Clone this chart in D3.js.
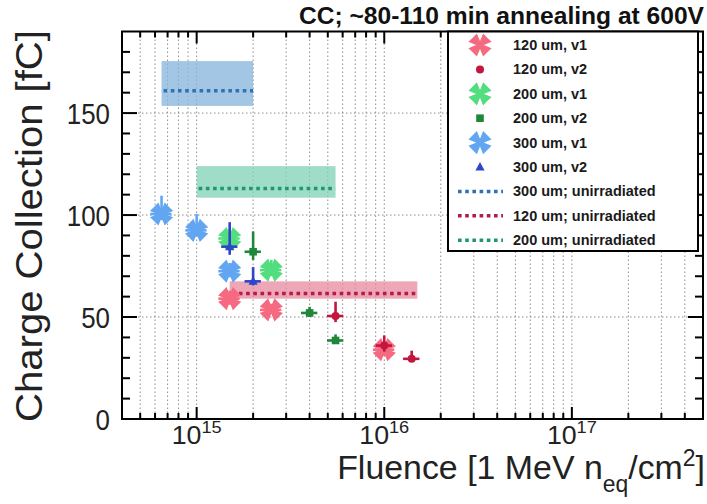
<!DOCTYPE html>
<html><head><meta charset="utf-8">
<script src="https://cdn.jsdelivr.net/npm/d3@7/dist/d3.min.js"></script>
<style>
body{margin:0;background:#fff;}
svg{display:block;font-family:"Liberation Sans",Arial,Helvetica,sans-serif;}
</style>
</head><body>
<svg id="c" width="707" height="504"></svg>
<script>
// ---------------- data ----------------
const chartTitle = "CC; ~80-110 min annealing at 600V";
const yTickValues = [0, 50, 100, 150];
const yMinorStep = 10;
const xDecades = [1e15, 1e16, 1e17];
const xDecadeExp = ["15", "16", "17"];
const xLabelMain = "Fluence [1 MeV n";
const yLabel = "Charge Collection [fC]";

// irradiated samples: fluence, charge, error up, error down
const s120v1_x = [1.5e15, 2.5e15, 1e16];
const s120v1_y = [59, 53.5, 34];
const s120v1_up = [4, 3, 4];
const s120v1_dn = [3, 2, 3];

const s120v2_x = [5.5e15, 1e16, 1.4e16];
const s120v2_y = [50.5, 36, 29.5];
const s120v2_up = [7, 5, 4];
const s120v2_dn = [3, 3, 1];

const s200v1_x = [1.5e15, 2.5e15];
const s200v1_y = [88.5, 73];
const s200v1_up = [5, 5];
const s200v1_dn = [3, 3];

const s200v2_x = [2e15, 4e15, 5.5e15];
const s200v2_y = [82, 52, 38.5];
const s200v2_up = [10, 3, 3];
const s200v2_dn = [4, 2, 1];

const s300v1_x = [6.5e14, 1e15, 1.5e15];
const s300v1_y = [100.5, 92.5, 72.5];
const s300v1_up = [9, 8, 4];
const s300v1_dn = [3, 3, 3];

const s300v2_x = [1.5e15, 2e15];
const s300v2_y = [84.5, 67.5];
const s300v2_up = [12, 7];
const s300v2_dn = [4, 2];

// unirradiated references: fluence range (for display), mean, band low/high
const bandNames = ["300 um; unirradiated", "120 um; unirradiated", "200 um; unirradiated"];
const bandX0 = [6.5e14, 1.5e15, 1e15];
const bandX1 = [2e15, 1.5e16, 5.5e15];
const bandMean = [161, 61.5, 113];
const bandLow = [153.5, 59, 108.5];
const bandHigh = [175.5, 67.5, 124];
const bandLine = ["#2f72b3", "#b31b48", "#1f9872"];
const bandFill = ["#86b3dc", "#e8899f", "#7fd1b5"];

const seriesNames = ["120 um, v1", "120 um, v2", "200 um, v1", "200 um, v2", "300 um, v1", "300 um, v2"];
const seriesColors = ["#f66a81", "#c2163f", "#52dd7e", "#1f873a", "#62a6f2", "#2d47c8"];
const seriesShapes = ["x4", "circle", "x4", "square", "x4", "triangle"];

const seriesX = [s120v1_x, s120v2_x, s200v1_x, s200v2_x, s300v1_x, s300v2_x];
const seriesY = [s120v1_y, s120v2_y, s200v1_y, s200v2_y, s300v1_y, s300v2_y];
const seriesUp = [s120v1_up, s120v2_up, s200v1_up, s200v2_up, s300v1_up, s300v2_up];
const seriesDn = [s120v1_dn, s120v2_dn, s200v1_dn, s200v2_dn, s300v1_dn, s300v2_dn];
const xErrFrac = [0.13, 0.1, 0.13, 0.1, 0.13, 0.1];

// ---------------- layout ----------------
const L = 122, R = 703, T = 31.5, B = 419;
const svg = d3.select("#c");
const x = d3.scaleLog().domain([4e14, 5e17]).range([L, R]);
const y = d3.scaleLinear().domain([0, 190]).range([B, T]);

// grid
const xMinor = [];
[1e14, 1e15, 1e16, 1e17].forEach(d => { for (let m = 1; m < 10; m++) { const v = d * m; if (v > 4e14 * 1.001 && v < 5e17 * 0.999) xMinor.push(v); } });
const grid = svg.append("g").attr("stroke", "#8c8c8c").attr("stroke-width", 1).attr("stroke-dasharray", "1.5,2.5");
xMinor.forEach(v => grid.append("line").attr("x1", x(v)).attr("x2", x(v)).attr("y1", T).attr("y2", B));
yTickValues.filter(v => v > 0).forEach(v => grid.append("line").attr("x1", L).attr("x2", R).attr("y1", y(v)).attr("y2", y(v)));

// bands
const bands = svg.append("g");
bandNames.forEach((n, i) => {
  bands.append("rect").attr("x", x(bandX0[i])).attr("width", x(bandX1[i]) - x(bandX0[i]))
    .attr("y", y(bandHigh[i])).attr("height", y(bandLow[i]) - y(bandHigh[i]))
    .attr("fill", bandFill[i]).attr("fill-opacity", 0.75);
});
bandNames.forEach((n, i) => {
  bands.append("line").attr("x1", x(bandX0[i]) + 2).attr("x2", x(bandX1[i]))
    .attr("y1", y(bandMean[i])).attr("y2", y(bandMean[i]))
    .attr("stroke", bandLine[i]).attr("stroke-width", 3.5).attr("stroke-dasharray", "3.6,3.6");
});

// marker shapes
function x4Path(r) {
  let p = "";
  [45, 135, 225, 315].forEach(a => {
    const t = a * Math.PI / 180, h = 0.52;
    const p1 = [r * Math.cos(t - h), r * Math.sin(t - h)];
    const p2 = [r * Math.cos(t + h), r * Math.sin(t + h)];
    const pn = [0.86 * r * Math.cos(t), 0.86 * r * Math.sin(t)];
    const c1 = [1.6 * Math.cos(t - Math.PI / 2), 1.6 * Math.sin(t - Math.PI / 2)];
    const c2 = [1.6 * Math.cos(t + Math.PI / 2), 1.6 * Math.sin(t + Math.PI / 2)];
    p += `M${c2[0].toFixed(2)},${c2[1].toFixed(2)}L${c1[0].toFixed(2)},${c1[1].toFixed(2)}L${p1[0].toFixed(2)},${p1[1].toFixed(2)}L${pn[0].toFixed(2)},${pn[1].toFixed(2)}L${p2[0].toFixed(2)},${p2[1].toFixed(2)}Z`;
  });
  return p;
}
function drawMarker(g, shape, color, cx, cy, big) {
  if (shape === "x4") {
    g.append("path").attr("d", x4Path(big ? 12 : 12)).attr("transform", `translate(${cx},${cy})`).attr("fill", color);
  } else if (shape === "circle") {
    g.append("circle").attr("cx", cx).attr("cy", cy).attr("r", 4).attr("fill", color);
  } else if (shape === "square") {
    g.append("rect").attr("x", cx - 3.8).attr("y", cy - 3.8).attr("width", 7.6).attr("height", 7.6).attr("fill", color);
  } else if (shape === "triangle") {
    g.append("path").attr("d", "M0,-5L4.6,3.5L-4.6,3.5Z").attr("transform", `translate(${cx},${cy})`).attr("fill", color);
  }
}

// points: v1 series first, then v2 on top
const pts = svg.append("g");
[0, 2, 4, 1, 3, 5].forEach(i => {
  const g = pts.append("g");
  const c = seriesColors[i];
  seriesX[i].forEach((fx, j) => {
    const cx = x(fx), cy = y(seriesY[i][j]);
    g.append("line").attr("x1", cx).attr("x2", cx).attr("y1", y(seriesY[i][j] + seriesUp[i][j])).attr("y2", y(seriesY[i][j] - seriesDn[i][j]))
      .attr("stroke", c).attr("stroke-width", 2.6);
    g.append("line").attr("x1", x(fx * (1 - xErrFrac[i]))).attr("x2", x(fx * (1 + xErrFrac[i]))).attr("y1", cy).attr("y2", cy)
      .attr("stroke", c).attr("stroke-width", 2.6);
    drawMarker(g, seriesShapes[i], c, cx, cy, false);
  });
});

// frame & ticks
const ax = svg.append("g").attr("stroke", "#000");
ax.append("rect").attr("x", L).attr("y", T).attr("width", R - L).attr("height", B - T).attr("fill", "none").attr("stroke-width", 2);
xMinor.forEach(v => {
  const major = xDecades.includes(v);
  const len = major ? 12 : 6;
  ax.append("line").attr("x1", x(v)).attr("x2", x(v)).attr("y1", B).attr("y2", B - len).attr("stroke-width", 2);
  ax.append("line").attr("x1", x(v)).attr("x2", x(v)).attr("y1", T).attr("y2", T + len).attr("stroke-width", 2);
});
for (let v = yMinorStep; v < 190; v += yMinorStep) {
  const major = yTickValues.includes(v);
  const len = major ? 15 : 8;
  ax.append("line").attr("x1", L).attr("x2", L + len).attr("y1", y(v)).attr("y2", y(v)).attr("stroke-width", 2);
  ax.append("line").attr("x1", R).attr("x2", R - len).attr("y1", y(v)).attr("y2", y(v)).attr("stroke-width", 2);
}

// fit helper: scale text horizontally (in its own coords) to a target width
function fitW(t, w) {
  const bw = t.node().getBBox().width;
  if (bw > 0) t.attr("transform", `scale(${w / bw},1)`);
}

// y tick labels
yTickValues.forEach(v => {
  const g = svg.append("g").attr("transform", `translate(110,${y(v) + 10.5})`);
  const t = g.append("text").attr("text-anchor", "end").attr("font-size", 29).attr("fill", "#222").text(v);
  fitW(t, String(v).length * 14.4);
});

// x tick labels
xDecades.forEach((v, i) => {
  const g = svg.append("g").attr("transform", `translate(${x(v)},444)`);
  const t = g.append("text").attr("text-anchor", "middle").attr("font-size", 25).attr("fill", "#222");
  t.append("tspan").text("10");
  t.append("tspan").attr("font-size", 17).attr("dy", -11).text(xDecadeExp[i]);
  fitW(t, 50);
});

// x axis title
{
  const g = svg.append("g").attr("transform", "translate(705,479)");
  const t = g.append("text").attr("text-anchor", "end").attr("font-size", 34).attr("fill", "#222");
  t.append("tspan").text(xLabelMain);
  t.append("tspan").attr("font-size", 23).attr("dy", 13).text("eq");
  t.append("tspan").attr("dy", -13).text("/cm");
  t.append("tspan").attr("font-size", 23).attr("dy", -13).text("2");
  t.append("tspan").attr("dy", 13).text("]");
  fitW(t, 368);
}

// y axis title
{
  const g = svg.append("g").attr("transform", "translate(42,226) rotate(-90)");
  const t = g.append("text").attr("text-anchor", "middle").attr("font-size", 37).attr("fill", "#222").text(yLabel);
  fitW(t, 392);
}

// title
{
  const g = svg.append("g").attr("transform", "translate(704,24)");
  const t = g.append("text").attr("text-anchor", "end").attr("font-size", 23).attr("font-weight", "bold").attr("fill", "#111").text(chartTitle);
  fitW(t, 406);
}

// legend
const lg = svg.append("g");
lg.append("rect").attr("x", 448).attr("y", T).attr("width", 250).attr("height", 251 - T)
  .attr("fill", "#fff").attr("stroke", "#000").attr("stroke-width", 2);
const legendNames = seriesNames.concat(bandNames);
legendNames.forEach((n, k) => {
  const cy = 45 + k * 24.4;
  if (k < 6) {
    drawMarker(lg, seriesShapes[k], seriesColors[k], 480, cy, true);
  } else {
    const b = k - 6;
    lg.append("line").attr("x1", 458).attr("x2", 503).attr("y1", cy).attr("y2", cy)
      .attr("stroke", bandLine[b]).attr("stroke-width", 3.5).attr("stroke-dasharray", "3.6,3.6");
  }
  lg.append("text").attr("x", 513).attr("y", cy + 5).attr("font-size", 14.5).attr("font-weight", "bold").attr("fill", "#1a1a1a").text(n);
});
</script>
</body></html>
